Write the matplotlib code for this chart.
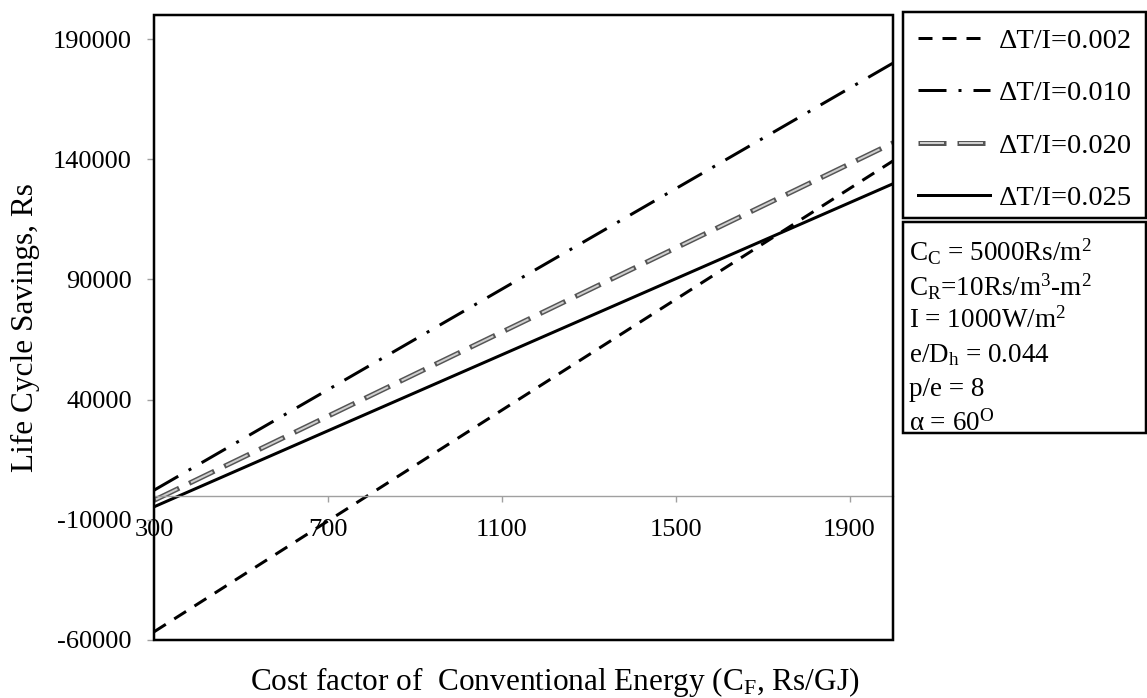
import matplotlib
matplotlib.use('Agg')
import matplotlib.pyplot as plt
from matplotlib.patches import Rectangle

plt.rcParams['font.family'] = ['Liberation Serif', 'DejaVu Serif']
plt.rcParams['mathtext.fontset'] = 'custom'
plt.rcParams['mathtext.rm'] = 'Liberation Serif'
plt.rcParams['mathtext.it'] = 'Liberation Serif:italic'
plt.rcParams['axes.unicode_minus'] = False

# data (end points of each straight line)
cost_factor = [300, 2000]
lcs_0002 = [-56600, 139300]
lcs_0010 = [2300, 180000]
lcs_0020 = [-1900, 146800]
lcs_0025 = [-4600, 129800]
labels = ['ΔT/I=0.002', 'ΔT/I=0.010', 'ΔT/I=0.020', 'ΔT/I=0.025']
x_ticks = [300, 700, 1100, 1500, 1900]
y_ticks = [-60000, -10000, 40000, 90000, 140000, 190000]
params = [r'C$_{\mathrm{C}}$ = 5000Rs/m$^{\mathrm{2}}$',
          r'C$_{\mathrm{R}}$=10Rs/m$^{\mathrm{3}}$-m$^{\mathrm{2}}$',
          r'I = 1000W/m$^{\mathrm{2}}$',
          r'e/D$_{\mathrm{h}}$ = 0.044',
          'p/e = 8',
          r'α = 60$^{\mathrm{O}}$']

W, H = 1147, 698
PT = 0.72  # px -> pt at 100 dpi
fig = plt.figure(figsize=(W / 100, H / 100), dpi=100)
ax = fig.add_axes([154 / W, 1 - 640 / H, (893 - 154) / W, (640 - 15) / H])

lw = 3 * PT
l1, = ax.plot(cost_factor, lcs_0002, color='black', lw=lw, ls=(0, (14 / 3, 10 / 3)))
l2, = ax.plot(cost_factor, lcs_0010, color='black', lw=lw, ls=(0, (28 / 3, 12 / 3, 1, 12 / 3)))
g1, = ax.plot(cost_factor, lcs_0020, color='#555555', lw=5 * PT, ls=(0, (28 / 5, 11 / 5)))
g2, = ax.plot(cost_factor, lcs_0020, color='#cfcfcf', lw=2 * PT, ls=(37 / 2, (24 / 2, 15 / 2)))
l4, = ax.plot(cost_factor, lcs_0025, color='black', lw=lw)

ax.set_xlim(300, 2000)
ax.set_ylim(-60000, 200000)
ax.set_xticks(x_ticks)
ax.set_yticks(y_ticks)
for s in ['left', 'right', 'top']:
    ax.spines[s].set_visible(False)
ax.spines['bottom'].set_position(('data', 0))
ax.spines['bottom'].set_color('#a0a0a0')
ax.spines['bottom'].set_linewidth(1)
ax.tick_params(axis='y', direction='out', length=7 * PT, color='#a0a0a0', width=1,
               pad=15 * PT, labelsize=19)
ax.tick_params(axis='x', direction='out', length=6 * PT, color='#a0a0a0', width=1,
               pad=17 * PT, labelsize=19)
ax.add_patch(Rectangle((0, 0), 1, 1, transform=ax.transAxes, fill=False,
                       ec='black', lw=2.5 * PT, clip_on=False, zorder=5))

fig.text(555 / W, 1 - 682 / H,
         r'Cost factor of  Conventional Energy (C$_{\mathrm{F}}$, Rs/GJ)',
         ha='center', va='center', fontsize=22.5)
fig.text(25 / W, 1 - 328 / H, 'Life Cycle Savings, Rs', rotation=90,
         ha='center', va='center', fontsize=22.5)

# legend box
fig.patches.append(Rectangle((903 / W, 1 - 218 / H), (1146 - 903) / W, (218 - 12) / H,
                             transform=fig.transFigure, fill=False, ec='black', lw=2.5 * PT))
fig.legend([l1, l2, (g1, g2), l4], labels, loc='upper left',
           bbox_to_anchor=(918 / W, 1 - 28 / H), frameon=False, fontsize=20.5,
           handlelength=72 / 28.5, handletextpad=0.3, labelspacing=0.93,
           borderaxespad=0, borderpad=0)

# parameter box
fig.patches.append(Rectangle((903 / W, 1 - 433 / H), (1146 - 903) / W, (433 - 222) / H,
                             transform=fig.transFigure, fill=False, ec='black', lw=2.5 * PT))
for i, txt in enumerate(params):
    fig.text(909 / W, 1 - (249 + 34.3 * i) / H, txt, ha='left', va='center_baseline',
             fontsize=19.5)

fig.savefig('out.png', dpi=100)
